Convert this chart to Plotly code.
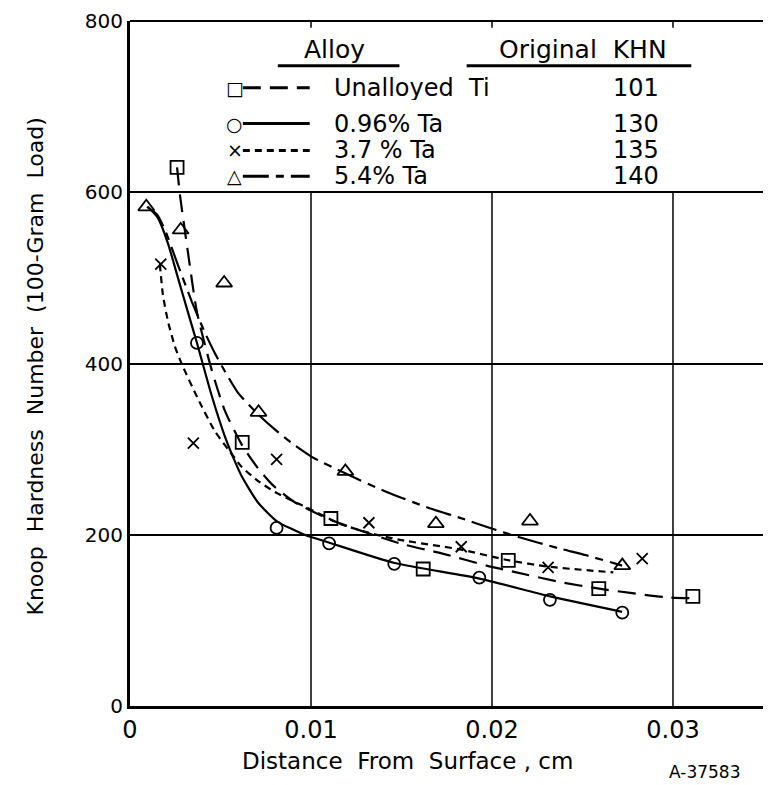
import plotly.graph_objects as go

# measured hardness points (distance cm, KHN)
ti_x = [0.0026, 0.0062, 0.0111, 0.0162, 0.0209, 0.0259, 0.0311]
ti_y = [629, 308, 219, 160, 170, 137, 128]
ta096_x = [0.0037, 0.0081, 0.0110, 0.0146, 0.0193, 0.0232, 0.0272]
ta096_y = [424, 208, 190, 166, 150, 124, 109]
ta37_x = [0.0017, 0.0035, 0.0081, 0.0132, 0.0183, 0.0231, 0.0283]
ta37_y = [516, 307, 288, 214, 186, 162, 172]
ta54_x = [0.0009, 0.0028, 0.0052, 0.0071, 0.0119, 0.0169, 0.0221, 0.0272]
ta54_y = [583, 556, 494, 343, 274, 213, 216, 164]

# hand drawn fitted curves
ti_cx = [0.0026, 0.00276, 0.0032, 0.0037, 0.00452, 0.00524, 0.00618, 0.00706, 0.00789,
         0.0091, 0.01114, 0.01489, 0.01726, 0.0197, 0.02135, 0.02372, 0.02592, 0.02962, 0.03105]
ti_cy = [629, 597, 530, 460, 392, 345, 305, 278, 258, 238, 217, 190, 178, 164, 156, 145, 137, 127, 126]
ta096_cx = [0.00099, 0.00154, 0.0021, 0.00265, 0.0032, 0.0037, 0.00452, 0.00524, 0.00579,
            0.00618, 0.00706, 0.0081, 0.00965, 0.01098, 0.01462, 0.01925, 0.02322, 0.02719]
ta096_cy = [583, 570, 540, 500, 460, 424, 362, 315, 286, 268, 238, 216, 200, 191, 167, 149, 128, 110]
ta37_cx = [0.00165, 0.00182, 0.0021, 0.00248, 0.00287, 0.00375, 0.00469, 0.00563, 0.00618, 0.00706,
           0.008, 0.00894, 0.01004, 0.01158, 0.01324, 0.0149, 0.0182, 0.02096, 0.023, 0.0267]
ta37_cy = [516, 480, 449, 420, 399, 359, 321, 294, 279, 263, 250, 240, 229, 213, 202, 194, 183, 170, 163, 156]
ta54_cx = [0.00094, 0.00149, 0.00193, 0.00265, 0.00342, 0.00414, 0.00469, 0.00524, 0.00596, 0.00706,
           0.008, 0.00894, 0.01004, 0.01186, 0.01418, 0.01655, 0.0182, 0.02002, 0.02151, 0.02372,
           0.02521, 0.02719]
ta54_cy = [583, 574, 556, 515, 472, 436, 412, 391, 366, 341, 323, 307, 291, 272, 250, 231, 220,
           207, 197, 184, 176, 164]

alloys = ["Unalloyed  Ti", "0.96% Ta", "3.7 % Ta", "5.4% Ta"]
khn = ["101", "130", "135", "140"]
glyphs = ["\u25a1", "\u25cb", "\u00d7", "\u25b3"]

x_ticks = [0, 0.01, 0.02, 0.03]
x_ticktext = ["0", "0.01", "0.02", "0.03"]
y_ticks = [0, 200, 400, 600, 800]

FONT = "DejaVu Sans"
dashes = ["18px,9px", "solid", "7px,5px", "26px,7px,8px,7px"]
symbols = ["square-open", "circle-open", "x-thin-open", "triangle-up-open"]
sizes = [13, 12, 11, 14]

fig = go.Figure()
series = [(ti_x, ti_y, ti_cx, ti_cy), (ta096_x, ta096_y, ta096_cx, ta096_cy),
          (ta37_x, ta37_y, ta37_cx, ta37_cy), (ta54_x, ta54_y, ta54_cx, ta54_cy)]
for i, (px, py, cx, cy) in enumerate(series):
    fig.add_trace(go.Scatter(x=cx, y=cy, mode="lines", line_shape="spline",
                             line=dict(color="black", width=2.2, dash=dashes[i], smoothing=0.6),
                             showlegend=False, hoverinfo="skip"))
    fig.add_trace(go.Scatter(x=px, y=py, mode="markers", name=alloys[i],
                             marker=dict(symbol=symbols[i], size=sizes[i], color="black",
                                         line=dict(color="black", width=1.8)),
                             showlegend=False))

shapes = []
# vertical grid only up to 600
for xv in x_ticks[1:]:
    shapes.append(dict(type="line", xref="x", yref="y", x0=xv, x1=xv, y0=0, y1=600,
                       line=dict(color="black", width=1.5)))
    shapes.append(dict(type="line", xref="x", yref="paper", x0=xv, x1=xv, y0=1, y1=0.99,
                       line=dict(color="black", width=1.5)))
shapes.append(dict(type="line", xref="paper", yref="paper", x0=0, x1=1, y0=1, y1=1,
                   line=dict(color="black", width=2)))

ann = []
# legend table
row_y = [0.9026, 0.8503, 0.811, 0.7733]
ann.append(dict(x=0.3198, y=0.958, xref="paper", yref="paper", text="Alloy", showarrow=False,
                xanchor="center", yanchor="middle",
                font=dict(family=FONT, size=25, color="black")))
ann.append(dict(x=0.708, y=0.958, xref="paper", yref="paper", text="Original  KHN", showarrow=False,
                xanchor="center", yanchor="middle",
                font=dict(family=FONT, size=25, color="black")))
shapes.append(dict(type="line", xref="paper", yref="paper", x0=0.231, x1=0.421, y0=0.9346, y1=0.9346,
                   line=dict(color="black", width=3)))
shapes.append(dict(type="line", xref="paper", yref="paper", x0=0.526, x1=0.877, y0=0.9346, y1=0.9346,
                   line=dict(color="black", width=3)))
for i in range(4):
    ann.append(dict(x=0.1638, y=row_y[i], xref="paper", yref="paper", text=glyphs[i], showarrow=False,
                    xanchor="center", yanchor="middle",
                    font=dict(family=FONT, size=19, color="black")))
    shapes.append(dict(type="line", xref="paper", yref="paper", x0=0.1763, x1=0.2808,
                       y0=row_y[i], y1=row_y[i],
                       line=dict(color="black", width=3, dash=dashes[i])))
    ann.append(dict(x=0.3151, y=row_y[i], xref="paper", yref="paper", text=alloys[i], showarrow=False,
                    xanchor="left", yanchor="middle", height=24,
                    font=dict(family=FONT, size=24, color="black")))
    ann.append(dict(x=0.752, y=row_y[i], xref="paper", yref="paper", text=khn[i], showarrow=False,
                    xanchor="left", yanchor="middle", height=24,
                    font=dict(family=FONT, size=24, color="black")))

# axis titles and drawing number
ann.append(dict(x=-0.148, y=0.496, xref="paper", yref="paper", textangle=-90, showarrow=False,
                xanchor="center", yanchor="middle",
                text="Knoop  Hardness  Number  (100-Gram  Load)",
                font=dict(family=FONT, size=22, color="black")))
ann.append(dict(x=0.434, y=-0.081, xref="paper", yref="paper", showarrow=False,
                xanchor="center", yanchor="middle",
                text="Distance  From  Surface , cm", font=dict(family=FONT, size=23, color="black")))
ann.append(dict(x=0.897, y=-0.097, xref="paper", yref="paper", showarrow=False,
                xanchor="center", yanchor="middle",
                text="A-37583", font=dict(family=FONT, size=17, color="black")))

# page body adds an 8px offset, so the figure is shifted up/left by that much
fig.update_layout(
    width=763, height=777,
    margin=dict(l=122, r=1, t=10, b=79),
    plot_bgcolor="white", paper_bgcolor="white",
    shapes=shapes, annotations=ann,
    xaxis=dict(range=[0, 0.03536], tickvals=x_ticks, ticktext=x_ticktext, showgrid=False,
               zeroline=False, showline=True, linecolor="black", linewidth=3, ticks="",
               tickfont=dict(family=FONT, size=24, color="black")),
    yaxis=dict(range=[0, 800], tickvals=y_ticks, showgrid=True, gridcolor="black", gridwidth=1.5,
               zeroline=False, showline=True, linecolor="black", linewidth=3, ticks="",
               ticklabeloverflow="allow",
               tickfont=dict(family=FONT, size=20, color="black")),
)

fig.write_html("out.html")
